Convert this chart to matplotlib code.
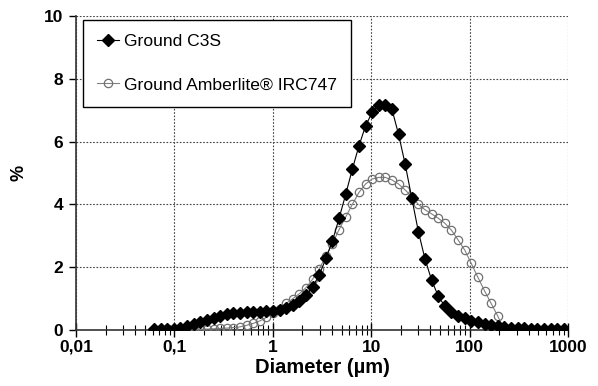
import matplotlib
matplotlib.use("Agg")
import matplotlib.pyplot as plt
from matplotlib.ticker import FixedLocator, FixedFormatter, LogLocator, NullFormatter

plt.rcParams["font.family"] = ["Liberation Sans", "DejaVu Sans"]

# particle diameters (um), log-spaced bins
diam = [
    0.0621, 0.0725, 0.0846, 0.0988, 0.1153, 0.1346, 0.1571, 0.1833, 0.2140, 0.2498,
    0.2915, 0.3403, 0.3972, 0.4636, 0.5411, 0.6316, 0.7372, 0.8605, 1.004, 1.172,
    1.368, 1.597, 1.864, 2.176, 2.540, 2.964, 3.460, 4.039, 4.714, 5.502,
    6.422, 7.496, 8.749, 10.21, 11.92, 13.91, 16.24, 18.95, 22.12, 25.82,
    30.14, 35.18, 41.06, 47.93, 55.94, 65.30, 76.21, 88.96, 103.8, 121.2,
    141.5, 165.1, 192.7, 225.0, 262.6, 306.5, 357.7, 417.6, 487.4, 568.9,
    664.0, 775.1, 904.7,
]

# Ground C3S, %
c3s = [
    0.02, 0.02, 0.03, 0.04, 0.07, 0.12, 0.18, 0.25, 0.32, 0.39,
    0.45, 0.50, 0.53, 0.55, 0.57, 0.58, 0.59, 0.60, 0.62, 0.65,
    0.69, 0.80, 0.93, 1.11, 1.38, 1.75, 2.28, 2.84, 3.56, 4.32,
    5.12, 5.86, 6.50, 6.93, 7.18, 7.18, 7.03, 6.23, 5.28, 4.20,
    3.13, 2.26, 1.59, 1.08, 0.76, 0.58, 0.45, 0.37, 0.30, 0.25,
    0.19, 0.16, 0.13, 0.10, 0.08, 0.06, 0.05, 0.04, 0.04, 0.03,
    0.03, 0.03, 0.03,
]

# Ground Amberlite IRC747, % (from bin 5 to bin 53)
amb_start = 5
amberlite = [
    0.00, 0.01, 0.02, 0.03, 0.04,
    0.05, 0.06, 0.08, 0.10, 0.15, 0.21, 0.29, 0.40, 0.53, 0.68,
    0.85, 1.00, 1.16, 1.35, 1.62, 1.95, 2.35, 2.75, 3.20, 3.60,
    4.00, 4.38, 4.65, 4.81, 4.86, 4.86, 4.78, 4.65, 4.46, 4.25,
    4.00, 3.83, 3.70, 3.56, 3.40, 3.18, 2.87, 2.55, 2.12, 1.68,
    1.25, 0.85, 0.45, 0.00,
]
amb_diam = diam[amb_start:amb_start + len(amberlite)]

xticks = [0.01, 0.1, 1, 10, 100, 1000]
xtick_labels = ["0,01", "0,1", "1", "10", "100", "1000"]
yticks = [0, 2, 4, 6, 8, 10]

fig = plt.figure(figsize=(5.98, 3.86), dpi=100)
ax = fig.add_axes([0.127, 0.145, 0.823, 0.8135])

ax.plot(amb_diam, amberlite, "-o", color="#808080", lw=0.8, ms=6,
        mfc="none", mec="#707070", mew=0.9, label="Ground Amberlite® IRC747", zorder=3)
ax.plot(diam, c3s, "-D", color="black", lw=0.8, ms=5.8, label="Ground C3S", zorder=4)

ax.set_xscale("log")
ax.set_xlim(0.01, 1000)
ax.set_ylim(0, 10)

ax.xaxis.set_major_locator(FixedLocator(xticks))
ax.xaxis.set_major_formatter(FixedFormatter(xtick_labels))
ax.xaxis.set_minor_locator(LogLocator(base=10, subs=range(2, 10)))
ax.xaxis.set_minor_formatter(NullFormatter())
ax.set_yticks(yticks)

ax.grid(True, which="major", linestyle=(0, (1.5, 1.5)), color="#444444", lw=0.8)
ax.set_axisbelow(True)

for s in ["top", "right"]:
    ax.spines[s].set_visible(False)
for s in ["left", "bottom"]:
    ax.spines[s].set_linewidth(1.2)
    ax.spines[s].set_color("#333333")

ax.tick_params(axis="x", which="major", direction="inout", length=10, width=1,
               labelsize=12.5, pad=2)
ax.tick_params(axis="x", which="minor", direction="inout", length=7, width=0.8)
ax.tick_params(axis="y", which="major", direction="out", length=5, width=1,
               labelsize=12.5, pad=4)
for lab in ax.get_xticklabels() + ax.get_yticklabels():
    lab.set_fontweight("bold")

ax.set_xlabel("Diameter (µm)", fontsize=14.5, fontweight="bold", labelpad=2)
ax.set_ylabel("%", fontsize=13, fontweight="bold", labelpad=12)

handles, labels = ax.get_legend_handles_labels()
leg = ax.legend(handles[::-1], labels[::-1], loc="upper left",
                bbox_to_anchor=(0.014, 0.987), fontsize=12.6, frameon=True,
                fancybox=False, edgecolor="black", labelspacing=1.6,
                handlelength=1.25, handletextpad=0.3, borderpad=0.8,
                borderaxespad=0.0)
leg.get_frame().set_linewidth(1.0)
leg.get_frame().set_alpha(1)

fig.savefig("out.png", dpi=100)
